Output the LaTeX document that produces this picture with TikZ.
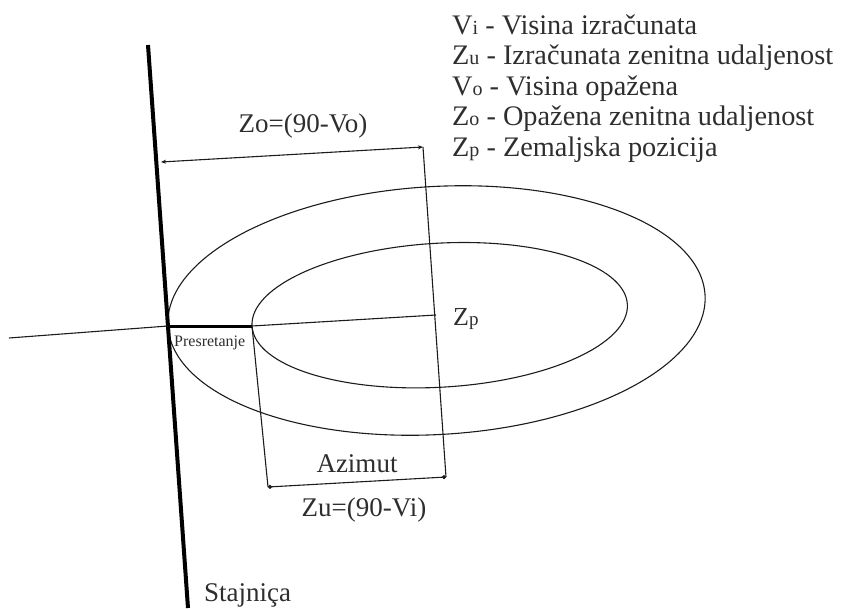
\documentclass[tikz,border=0pt]{standalone}
\usepackage{fontspec}
\setmainfont{Liberation Serif}
\usetikzlibrary{arrows.meta}
\definecolor{LineBlack}{HTML}{1C1C1C}
\definecolor{TextGray}{HTML}{2E2E2E}
\newcommand{\lowlet}[2]{{\fontsize{#1}{#1}\selectfont #2}}

\begin{document}
\begin{tikzpicture}[x=1pt,y=-1pt,
  thinline/.style={draw=LineBlack,line width=1.1pt},
  heavyline/.style={draw=black,line width=4pt},
  lbl/.style={text=TextGray,inner sep=0pt,font=\fontsize{27}{27}\selectfont}]
\useasboundingbox (0,0) rectangle (841,608);

% station line and points
\coordinate (stTop) at (148,45);
\coordinate (stBot) at (188,608);
\coordinate (hzL) at (9,338);
\coordinate (pres) at (168,326);
\coordinate (inL) at (252,326);
\coordinate (zp) at (436,315);
\coordinate (zoL) at (161,162);
\coordinate (zoR) at (423,147);
\coordinate (azL) at (268,487);
\coordinate (azR) at (446,477);

% circles of equal altitude
\draw[thinline,rotate around={3.3:(436.5,310.5)}] (436.5,310.5) ellipse [x radius=269, y radius=124];
\draw[thinline,rotate around={3.3:(439.7,315.2)}] (439.7,315.2) ellipse [x radius=188, y radius=72];

\draw[heavyline] (stTop) -- (stBot);
\draw[thinline] (hzL) -- (pres);
\draw[draw=black,line width=3pt] (pres) -- (inL);
\draw[thinline] (inL) -- (zp);

% zenith distances
\draw[thinline,{Stealth[length=5pt,width=4pt]}-{Stealth[length=5pt,width=4pt]}] (zoL) -- (zoR);
\draw[thinline] (zoR) -- (azR);
\draw[thinline] (inL) -- (azL);
\draw[thinline,{Circle[length=4pt]}-{Circle[length=4pt]}] (azL) -- (azR);

\node[lbl] (zoLbl) at (303,126) {Zo=(90-Vo)};
\node[lbl] (azLbl) at (357,464) {Azimut};
\node[lbl] (zuLbl) at (364,510) {Zu=(90-Vi)};
\node[lbl,anchor=west,font=\fontsize{26}{26}\selectfont] (zpLbl) at (453,319) {Z\lowlet{19}{p}};
\node[lbl,anchor=north west,font=\fontsize{16}{16}\selectfont] (presLbl) at (174,336) {Presretanje};
\node[lbl,anchor=base west] (stLbl) at (204,601) {Stajniça};

% legend
\node[lbl,anchor=north west,align=left,font=\fontsize{28.3}{30.5}\selectfont] (legend) at (452,14.5) {%
  V\lowlet{20}{i} - Visina izračunata\\
  Z\lowlet{20}{u} - Izračunata zenitna udaljenost\\
  V\lowlet{20}{o} - Visina opažena\\
  Z\lowlet{20}{o} - Opažena zenitna udaljenost\\
  Z\lowlet{20}{p} - Zemaljska pozicija};
\end{tikzpicture}
\end{document}
